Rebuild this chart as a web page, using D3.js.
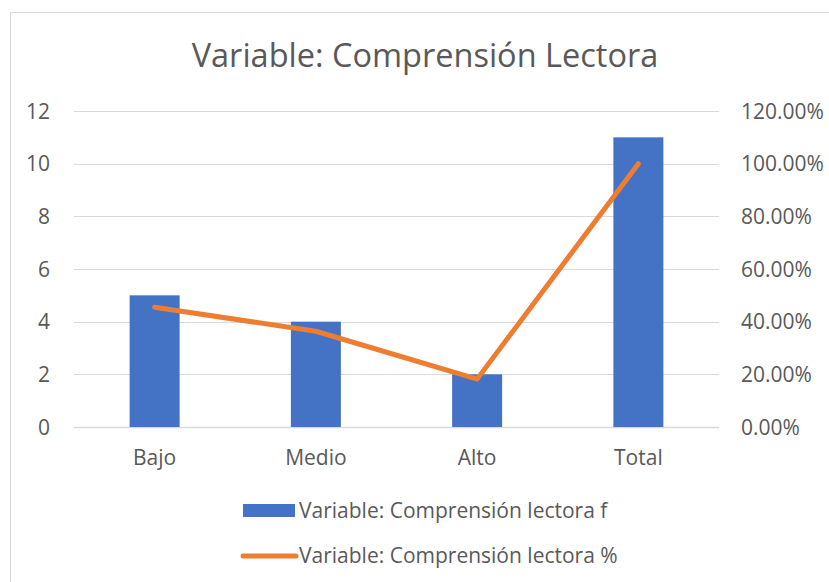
<!DOCTYPE html>
<html lang="es">
  <head>
    <meta charset="utf-8" />
    <title>Variable: Comprensión Lectora</title>
    <script src="https://cdn.jsdelivr.net/npm/d3@7"></script>
    <style>
      body { margin: 0; background: #fff; }
      text { font-family: "Open Sans", "Noto Sans", sans-serif; fill: #595959; }
    </style>
  </head>
  <body>
    <script>
      /*************************** Data ***************************/

      var categories = ["Bajo", "Medio", "Alto", "Total"];
      var frequency = [5, 4, 2, 11];
      var percent = [0.4545, 0.3636, 0.1818, 1.0];
      var leftTicks = [0, 2, 4, 6, 8, 10, 12];
      var rightTicks = [0, 0.2, 0.4, 0.6, 0.8, 1.0, 1.2];
      var seriesNames = ["Variable: Comprensión lectora f", "Variable: Comprensión lectora %"];

      /*************************** Canvas ***************************/

      var width = 829, height = 582;
      var plot = { left: 74, right: 719, top: 111, bottom: 427 };
      var labelSize = "21px";

      var svg = d3.select("body").append("svg")
        .attr("width", width)
        .attr("height", height);

      // chart frame (runs off the right/bottom edge in the reference)
      svg.append("rect")
        .attr("x", 10.5).attr("y", 12.5)
        .attr("width", width).attr("height", height)
        .attr("fill", "none")
        .attr("stroke", "#D9D9D9");

      var x = d3.scaleBand().domain(categories).range([plot.left, plot.right]).paddingInner(0).paddingOuter(0);
      var y = d3.scaleLinear().domain([0, 12]).range([plot.bottom, plot.top]);
      var y2 = d3.scaleLinear().domain([0, 1.2]).range([plot.bottom, plot.top]);

      /*************************** Grid + axes ***************************/

      svg.append("g").selectAll("line").data(leftTicks).join("line")
        .attr("x1", plot.left).attr("x2", plot.right)
        .attr("y1", d => Math.round(y(d)) + 0.5).attr("y2", d => Math.round(y(d)) + 0.5)
        .attr("stroke", "#D9D9D9").attr("stroke-width", d => d === 0 ? 1.5 : 1);

      svg.append("g").selectAll("text").data(leftTicks).join("text")
        .attr("x", 50).attr("y", d => y(d))
        .attr("dy", "0.36em").attr("text-anchor", "end")
        .style("font-size", labelSize)
        .text(d => d);

      svg.append("g").selectAll("text").data(rightTicks).join("text")
        .attr("x", 741).attr("y", d => y2(d))
        .attr("dy", "0.36em").attr("text-anchor", "start")
        .style("font-size", labelSize)
        .text(d => d3.format(".2%")(d));

      svg.append("g").selectAll("text").data(categories).join("text")
        .attr("x", d => x(d) + x.bandwidth() / 2).attr("y", 465)
        .attr("text-anchor", "middle")
        .style("font-size", labelSize)
        .text(d => d);

      /*************************** Bars + line ***************************/

      var barW = 50;
      svg.append("g").selectAll("rect").data(categories).join("rect")
        .attr("x", d => x(d) + x.bandwidth() / 2 - barW / 2)
        .attr("y", (d, i) => y(frequency[i]))
        .attr("width", barW)
        .attr("height", (d, i) => y(0) - y(frequency[i]))
        .attr("fill", "#4472C4");

      var line_gen = d3.line()
        .x((d, i) => x(categories[i]) + x.bandwidth() / 2)
        .y(d => y2(d));

      svg.append("path").datum(percent)
        .attr("d", line_gen)
        .attr("fill", "none")
        .attr("stroke", "#ED7D31")
        .attr("stroke-width", 5)
        .attr("stroke-linecap", "round")
        .attr("stroke-linejoin", "round");

      /*************************** Title ***************************/

      svg.append("text")
        .attr("x", 425).attr("y", 67)
        .attr("text-anchor", "middle")
        .style("font-size", "32.5px")
        .text("Variable: Comprensión Lectora");

      /*************************** Legend ***************************/

      var legend = svg.append("g");
      legend.append("rect")
        .attr("x", 243).attr("y", 504).attr("width", 52).attr("height", 13)
        .attr("fill", "#4472C4");
      legend.append("text")
        .attr("x", 299).attr("y", 518).style("font-size", labelSize)
        .text(seriesNames[0]);
      legend.append("line")
        .attr("x1", 243).attr("x2", 296).attr("y1", 556).attr("y2", 556)
        .attr("stroke", "#ED7D31").attr("stroke-width", 5).attr("stroke-linecap", "round");
      legend.append("text")
        .attr("x", 299).attr("y", 563).style("font-size", labelSize)
        .text(seriesNames[1]);
    </script>
  </body>
</html>
